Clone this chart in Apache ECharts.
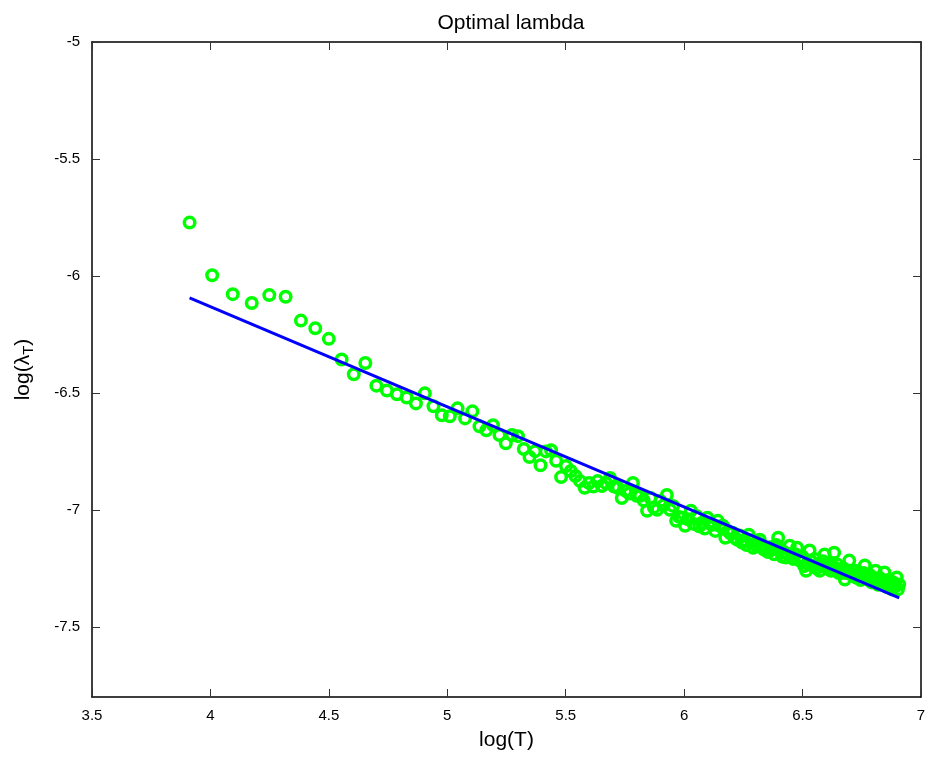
<!DOCTYPE html>
<html>
<head>
<meta charset="utf-8">
<script src="https://cdn.jsdelivr.net/npm/echarts@6/dist/echarts.min.js"></script>
<style>html,body{margin:0;padding:0;background:#fff}#c{width:929px;height:757px}</style>
</head>
<body>
<div id="c"></div>
<script>
const titleText = 'Optimal lambda';
const xName = 'log(T)';
const xTicks = [3.5, 4, 4.5, 5, 5.5, 6, 6.5, 7];
const yTicks = [-7.5, -7, -6.5, -6, -5.5, -5];
const T = [
  50,55,60,65,70,75,80,85,90,95,
  100,105,110,115,120,125,130,135,140,145,
  150,155,160,165,170,175,180,185,190,195,
  200,205,210,215,220,225,230,235,240,245,
  250,255,260,265,270,275,280,285,290,295,
  300,305,310,315,320,325,330,335,340,345,
  350,355,360,365,370,375,380,385,390,395,
  400,405,410,415,420,425,430,435,440,445,
  450,455,460,465,470,475,480,485,490,495,
  500,505,510,515,520,525,530,535,540,545,
  550,555,560,565,570,575,580,585,590,595,
  600,605,610,615,620,625,630,635,640,645,
  650,655,660,665,670,675,680,685,690,695,
  700,705,710,715,720,725,730,735,740,745,
  750,755,760,765,770,775,780,785,790,795,
  800,805,810,815,820,825,830,835,840,845,
  850,855,860,865,870,875,880,885,890,895,
  900,905,910,915,920,925,930,935,940,945,
  950,955,960,965,970,975,980,985,990,995,
  1000
];
const logLambda = [
  -5.772,-5.997,-6.078,-6.116,-6.082,-6.089,-6.191,-6.224,-6.269,-6.357,
  -6.420,-6.372,-6.469,-6.490,-6.506,-6.520,-6.545,-6.502,-6.557,-6.596,
  -6.600,-6.566,-6.609,-6.579,-6.643,-6.660,-6.638,-6.680,-6.715,-6.680,
  -6.685,-6.740,-6.774,-6.749,-6.809,-6.750,-6.745,-6.790,-6.860,-6.813,
  -6.834,-6.855,-6.877,-6.906,-6.885,-6.900,-6.877,-6.898,-6.885,-6.864,
  -6.900,-6.906,-6.949,-6.919,-6.930,-6.885,-6.940,-6.940,-6.960,-7.004,
  -6.949,-6.990,-7.000,-6.962,-6.980,-6.936,-7.000,-6.983,-7.047,-7.030,
  -7.034,-7.068,-7.040,-7.004,-7.060,-7.026,-7.070,-7.055,-7.080,-7.034,
  -7.060,-7.064,-7.090,-7.047,-7.070,-7.068,-7.119,-7.090,-7.100,-7.098,
  -7.120,-7.128,-7.110,-7.140,-7.130,-7.150,-7.106,-7.130,-7.162,-7.150,
  -7.140,-7.128,-7.160,-7.170,-7.162,-7.180,-7.160,-7.170,-7.190,-7.150,
  -7.119,-7.170,-7.200,-7.180,-7.204,-7.190,-7.153,-7.200,-7.210,-7.190,
  -7.162,-7.210,-7.220,-7.200,-7.240,-7.260,-7.230,-7.174,-7.220,-7.240,
  -7.210,-7.250,-7.230,-7.260,-7.240,-7.220,-7.191,-7.240,-7.250,-7.230,
  -7.260,-7.240,-7.183,-7.250,-7.234,-7.270,-7.260,-7.270,-7.250,-7.298,
  -7.270,-7.260,-7.217,-7.270,-7.280,-7.260,-7.260,-7.290,-7.280,-7.270,
  -7.300,-7.280,-7.270,-7.238,-7.290,-7.289,-7.300,-7.280,-7.310,-7.290,
  -7.300,-7.260,-7.310,-7.320,-7.290,-7.310,-7.300,-7.320,-7.268,-7.310,
  -7.330,-7.300,-7.302,-7.320,-7.340,-7.310,-7.330,-7.320,-7.289,-7.340,
  -7.319
];
const fitX = [3.912, 6.908];
const fitY = [-6.094, -7.376];

const FONT = '"Liberation Sans", Arial, Helvetica, sans-serif';
const pts = T.map((t, i) => [Math.log(t), logLambda[i]]);
const fit = fitX.map((x, i) => [x, fitY[i]]);

const chart = echarts.init(document.getElementById('c'), null, {renderer: 'canvas'});
const axisLine = {show: true, onZero: false, lineStyle: {color: '#000', width: 1.5}};
const tick = {show: true, inside: true, length: 8, lineStyle: {color: '#333', width: 1}};
chart.setOption({
  animation: false,
  backgroundColor: '#fff',
  title: {
    text: titleText, left: 506, top: 8, textAlign: 'center',
    textStyle: {fontFamily: FONT, fontSize: 21, fontWeight: 'normal', color: '#000'}
  },
  grid: {left: 92, right: 8, top: 42, bottom: 60, containLabel: false},
  xAxis: [{
    type: 'value', min: 3.5, max: 7, interval: 0.5, position: 'bottom',
    name: xName, nameLocation: 'middle', nameGap: 33,
    nameTextStyle: {fontFamily: FONT, fontSize: 21, color: '#000'},
    axisLine: axisLine, axisTick: tick, splitLine: {show: false},
    axisLabel: {fontFamily: FONT, fontSize: 15, color: '#000', margin: 11,
      customValues: xTicks, formatter: v => String(v)}
  }, {
    type: 'value', min: 3.5, max: 7, interval: 0.5, position: 'top',
    axisLine: axisLine, axisTick: tick, splitLine: {show: false},
    axisLabel: {show: false}
  }],
  yAxis: [{
    type: 'value', min: -7.8, max: -5, position: 'left',
    name: '{a|log(λ}{s|T}{a|)}', nameLocation: 'middle', nameGap: 56, nameRotate: 90,
    nameTextStyle: {fontFamily: FONT, fontSize: 21, color: '#000',
      rich: {a: {fontFamily: FONT, fontSize: 21, color: '#000'},
             s: {fontFamily: FONT, fontSize: 15, color: '#000', verticalAlign: 'bottom', padding: [10, 0, 0, 0]}}},
    axisLine: axisLine,
    axisTick: Object.assign({customValues: yTicks}, tick),
    splitLine: {show: false},
    axisLabel: {fontFamily: FONT, fontSize: 15, color: '#000', margin: 12,
      customValues: yTicks, formatter: v => String(v)}
  }, {
    type: 'value', min: -7.8, max: -5, position: 'right',
    axisLine: axisLine,
    axisTick: Object.assign({customValues: yTicks}, tick),
    splitLine: {show: false}, axisLabel: {show: false}
  }],
  series: [{
    type: 'scatter', data: pts, xAxisIndex: 0, yAxisIndex: 0,
    symbol: 'circle', symbolSize: 10.5,
    itemStyle: {color: 'rgba(0,0,0,0)', borderColor: '#00ff00', borderWidth: 3.5, opacity: 1},
    z: 2
  }, {
    type: 'line', data: fit, xAxisIndex: 0, yAxisIndex: 0,
    showSymbol: false, symbol: 'none',
    lineStyle: {color: '#0000ff', width: 3},
    z: 3
  }]
});
</script>
</body>
</html>
